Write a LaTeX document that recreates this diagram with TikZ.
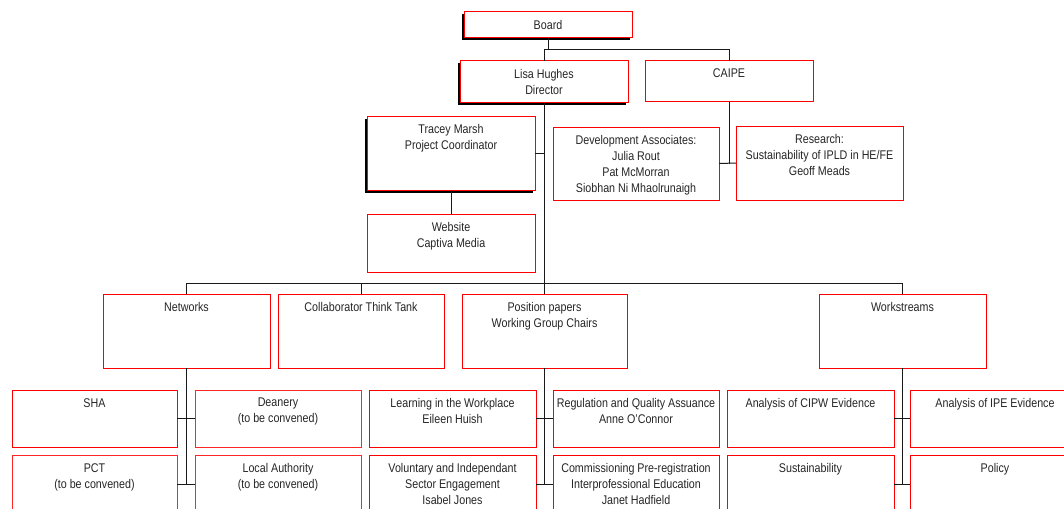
\documentclass[tikz,border=0pt]{standalone}
\usepackage{fontspec}
\setmainfont{Liberation Sans}[FakeStretch=0.85]
\usetikzlibrary{shadows}
\tikzset{
  box/.style={draw=red, line width=1pt, fill=white, inner sep=0pt, outer sep=0pt},
  txt/.style={inner sep=0pt, align=center, text=black!85, font=\fontsize{12.6}{16}\selectfont},
  conn/.style={draw=black!90, line width=1pt},
  shadA/.style={drop shadow={shadow xshift=-2pt, shadow yshift=-2pt, fill=black, opacity=1}},
  shadB/.style={drop shadow={shadow xshift=-2.5pt, shadow yshift=-3pt, fill=black, opacity=1}},
  faint/.style={draw=red!85},
}
\newcommand\obox[7]{%
  \node[box,#6,minimum width={#4-#2}, minimum height={#5-#3}] (#1) at ({(#2+#4)/2},{(#3+#5)/2}) {};
  \node[txt, anchor=north] (#1-t) at ({(#2+#4)/2},{#3+8}) {#7};
}
\begin{document}
\begin{tikzpicture}[x=1pt,y=-1pt]
\useasboundingbox (0,0) rectangle (1064,508);
\clip (0,0) rectangle (1064,508);
\fill[white] (0,0) rectangle (1064,508);
% top
\obox{board}{464}{12}{632}{38}{shadA}{Board}
\obox{lisa}{460}{61}{628}{103}{shadA}{Lisa Hughes\\Director}
\obox{caipe}{645}{61}{813}{102}{}{CAIPE}
\obox{tracey}{367}{116}{535}{190}{shadB}{Tracey Marsh\\Project Coordinator}
\obox{website}{367}{214}{535}{272}{}{Website\\Captiva Media}
\obox{dev}{553}{127}{719}{200}{}{Development Associates:\\Julia Rout\\Pat McMorran\\Siobhan Ni Mhaolrunaigh}
\obox{research}{736}{126}{903}{200}{}{Research:\\Sustainability of IPLD in HE/FE\\Geoff Meads}
% middle row
\obox{networks}{103}{294}{270}{368}{}{Networks}
\obox{collab}{278}{294}{444}{368}{}{Collaborator Think Tank}
\obox{position}{462}{294}{627}{368}{}{Position papers\\Working Group Chairs}
\obox{workstreams}{819}{294}{986}{368}{}{Workstreams}
% bottom rows
\obox{sha}{12}{390}{177}{447}{}{SHA}
\obox{deanery}{195}{390}{361}{447}{faint}{Deanery\\(to be convened)}
\obox{pct}{12}{455}{177}{513}{faint}{PCT\\(to be convened)}
\obox{local}{195}{455}{361}{513}{faint}{Local Authority\\(to be convened)}
\obox{learning}{369}{390}{536}{447}{}{Learning in the Workplace\\Eileen Huish}
\obox{regulation}{553}{390}{719}{447}{}{Regulation and Quality Assuance\\Anne O'Connor}
\obox{voluntary}{369}{455}{536}{513}{}{Voluntary and Independant\\Sector Engagement\\Isabel Jones}
\obox{commissioning}{553}{455}{719}{513}{}{Commissioning Pre-registration\\Interprofessional Education\\Janet Hadfield}
\obox{cipw}{727}{390}{894}{447}{}{Analysis of CIPW Evidence}
\obox{ipe}{910}{390}{1080}{447}{}{Analysis of IPE Evidence}
\obox{sustain}{727}{455}{894}{513}{}{Sustainability}
\obox{policy}{910}{455}{1080}{513}{}{Policy}
% connectors
\coordinate (j1) at (548,50);
\coordinate (hbar) at (0,283);
\draw[conn] (board.south) -- (j1);
\draw[conn] (lisa.north) |- (caipe.north |- j1) -- (caipe.north);
\draw[conn] (lisa.south) -- (lisa.south |- hbar);
\draw[conn] (tracey.east) -- (tracey.east -| lisa.south);
\draw[conn] (tracey.south) -- (website.north);
\draw[conn] (caipe.south) -- (caipe.south |- dev.east);
\draw[conn] (dev.east) -- (research.west);
\draw[conn] (networks.north) |- (workstreams.north |- hbar) -- (workstreams.north);
\draw[conn] (collab.north) -- (collab.north |- hbar);
\draw[conn] (position.north) -- (position.north |- hbar);
% networks group
\draw[conn] (networks.south) -- (networks.south |- pct.east);
\draw[conn] (sha.east) -- (deanery.west);
\draw[conn] (pct.east) -- (local.west);
% position group
\draw[conn] (position.south) -- (position.south |- voluntary.east);
\draw[conn] (learning.east) -- (regulation.west);
\draw[conn] (voluntary.east) -- (commissioning.west);
% workstreams group
\draw[conn] (workstreams.south) -- (workstreams.south |- sustain.east);
\draw[conn] (cipw.east) -- (ipe.west);
\draw[conn] (sustain.east) -- (policy.west);
\end{tikzpicture}
\end{document}
